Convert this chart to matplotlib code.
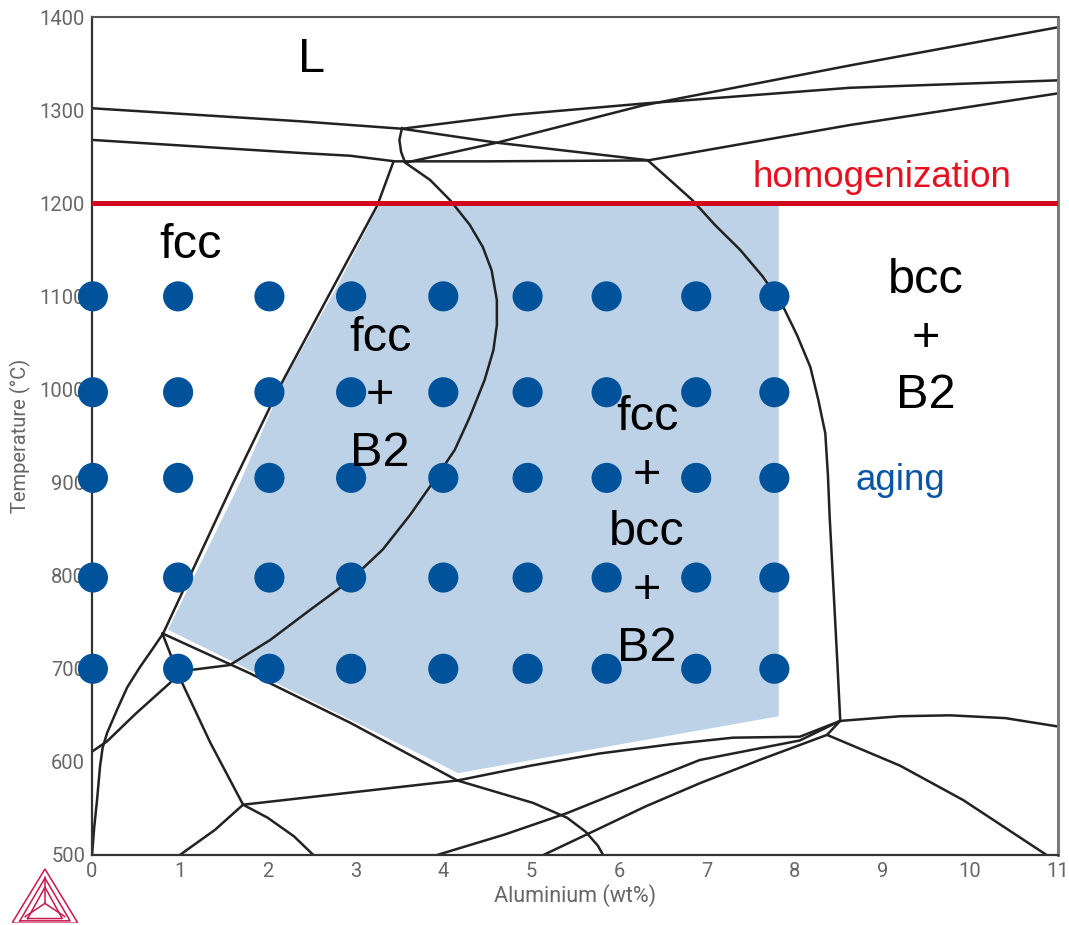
import matplotlib.pyplot as plt
from matplotlib.patches import Polygon

# aging grid (wt% Al, degC)
dot_al = [0.01, 0.98, 2.02, 2.95, 4.0, 4.96, 5.86, 6.88, 7.77]
dot_temp = [1100, 997, 905, 798, 700]

# shaded fcc+B2 / fcc+bcc+B2 window
shade_al = [0.865, 1.685, 2.175, 2.77, 3.28, 7.82, 7.82, 4.17]
shade_temp = [742, 900, 1007, 1107, 1200, 1200, 649, 588]

homog_temp = 1200

# phase boundaries
liq_a_al = [0, 2.37, 3.53, 4.61, 6.35]
liq_a_t = [1302, 1288, 1280, 1265, 1246]
liq_b_al = [0, 2.37, 2.94, 3.45, 4.5, 6.35]
liq_b_t = [1268, 1254, 1251, 1245, 1245, 1246]
peri_al = [3.53, 3.50, 3.52, 3.56]
peri_t = [1281, 1268, 1255, 1245]
top_flat_al = [3.53, 4.8, 6.27, 8.63, 11]
top_flat_t = [1280, 1295, 1307, 1324, 1332]
top_steep_al = [3.59, 4.61, 6.27, 8.63, 11]
top_steep_t = [1244, 1265, 1305, 1348, 1389]
top_low_al = [6.33, 8.63, 11]
top_low_t = [1246, 1284, 1318]
bcc_al = [6.33, 6.58, 6.84, 7.09, 7.38, 7.64, 7.87, 8.03, 8.18, 8.27, 8.35, 8.38, 8.40, 8.44, 8.49, 8.52]
bcc_t = [1246, 1225, 1203, 1177, 1150, 1121, 1089, 1058, 1024, 989, 953, 908, 863, 792, 702, 645]
fcc_al = [3.43, 3.25, 2.73, 2.16, 1.61, 0.81, 0.68, 0.547, 0.40, 0.285, 0.171, 0.12, 0.091, 0.057, 0.025, 0]
fcc_t = [1244, 1198, 1107, 1007, 900, 738, 720, 702, 680, 656, 631, 615, 595, 559, 530, 500]
b2_al = [3.56, 3.85, 4.08, 4.30, 4.45, 4.55, 4.61, 4.61, 4.57, 4.47, 4.30, 4.13, 3.88, 3.62, 3.31,
         2.94, 2.48, 2.03, 1.57, 1.15, 0.97, 0.89, 0.5, 0.17, 0]
b2_t = [1244, 1225, 1203, 1177, 1153, 1128, 1096, 1069, 1042, 1010, 970, 935, 900, 865, 828,
        795, 763, 731, 704, 699, 697, 685, 652, 622, 611]
diag_al = [0.80, 1.80, 2.94, 4.16]
diag_t = [738, 695, 642, 580]
drop_al = [0.80, 1.00, 1.35, 1.72]
drop_t = [738, 690, 620, 554]
low_l_al = [1.72, 1.4, 1.0]
low_l_t = [554, 527, 500]
low_r_al = [1.72, 2.0, 2.3, 2.52]
low_r_t = [554, 540, 520, 500]
mid_al = [1.72, 4.16]
mid_t = [554, 580]
line_a_al = [4.16, 5.0, 5.78, 6.6, 7.30, 8.06, 8.52]
line_a_t = [580, 596, 609, 619, 626, 627, 644]
arc6_al = [4.16, 5.02, 5.41, 5.62, 5.76, 5.82]
arc6_t = [580, 556, 540, 525, 510, 500]
line_b_al = [3.93, 4.7, 5.41, 6.2, 6.92, 8.06, 8.52]
line_b_t = [500, 522, 545, 575, 602, 623, 644]
line_c_al = [5.14, 5.70, 6.3, 6.92, 7.6, 8.37, 8.52]
line_c_t = [500, 525, 552, 577, 602, 629, 644]
line_d_al = [8.37, 9.2, 9.92, 10.87]
line_d_t = [629, 596, 559, 500]
line_e_al = [8.52, 9.2, 9.77, 10.4, 11]
line_e_t = [644, 649, 650, 647, 638]

boundaries = [
    (liq_a_al, liq_a_t), (liq_b_al, liq_b_t), (peri_al, peri_t),
    (top_flat_al, top_flat_t), (top_steep_al, top_steep_t), (top_low_al, top_low_t),
    (bcc_al, bcc_t), (fcc_al, fcc_t), (b2_al, b2_t), (diag_al, diag_t),
    (drop_al, drop_t), (low_l_al, low_l_t), (low_r_al, low_r_t), (mid_al, mid_t),
    (line_a_al, line_a_t), (arc6_al, arc6_t), (line_b_al, line_b_t),
    (line_c_al, line_c_t), (line_d_al, line_d_t), (line_e_al, line_e_t),
]

x_ticks = list(range(12))
y_ticks = list(range(500, 1401, 100))

fig = plt.figure(figsize=(10.69, 9.25), dpi=100)
ax = fig.add_axes([0.0861, 0.0757, 0.9036, 0.9059])
ax.set_xlim(0, 11)
ax.set_ylim(500, 1400)

ax.add_patch(Polygon(list(zip(shade_al, shade_temp)), closed=True,
                     facecolor='#bdd2e6', edgecolor='none', zorder=1))

for al, t in boundaries:
    ax.plot(al, t, color='#222222', lw=1.8, zorder=2, solid_capstyle='round',
            solid_joinstyle='round')

ax.axhline(homog_temp, color='#d0091e', lw=3.6, zorder=3)

xs = [a for t in dot_temp for a in dot_al]
ys = [t for t in dot_temp for a in dot_al]
ax.scatter(xs, ys, s=470, color='#00529b', edgecolor='none', zorder=5, clip_on=False)

big = dict(family='Liberation Sans', fontsize=35, ha='center', va='center',
           color='black', zorder=6, linespacing=1.36)
ax.text(2.5, 1354, 'L', **big)
ax.text(1.12, 1155, 'fcc', **big)
ax.text(3.28, 993, 'fcc\n+\nB2', **big)
ax.text(6.32, 846, 'fcc\n+\nbcc\n+\nB2', **big)
ax.text(9.49, 1055, 'bcc\n+\nB2', **big)
ax.text(9.0, 1228, 'homogenization', family='Liberation Sans', fontsize=26.5,
        color='#e8101e', ha='center', va='center', zorder=6)
ax.text(9.2, 902, 'aging', family='Liberation Sans', fontsize=26.5,
        color='#0a55a5', ha='center', va='center', zorder=6)

ax.set_xticks(x_ticks)
ax.set_yticks(y_ticks)
ax.tick_params(length=0, labelsize=14.5, labelcolor='#666666', pad=5)
for lab in ax.get_xticklabels() + ax.get_yticklabels():
    lab.set_family('Roboto')
ax.set_xlabel('Aluminium (wt%)', family='Roboto', fontsize=15.5, color='#666666', labelpad=2)
ax.set_ylabel('Temperature (°C)', family='Roboto', fontsize=14.5, color='#666666', labelpad=6)

for side in ['left', 'bottom']:
    ax.spines[side].set_color('#333333')
    ax.spines[side].set_linewidth(1.6)
ax.spines['top'].set_color('#555555')
ax.spines['top'].set_linewidth(1.5)
ax.spines['right'].set_color('#7a7a7a')
ax.spines['right'].set_linewidth(2.2)

# Thermo-Calc style logo
lax = fig.add_axes([0.0112, 0.002, 0.0617, 0.0616])
lax.set_xlim(0, 1)
lax.set_ylim(0, 0.866)
lax.axis('off')
logo_c = '#c8174b'
for k in [0.0, 0.07, 0.14]:
    h = 0.866 - 3 * k * 0.866
    lax.plot([k * 1.7, 1 - k * 1.7, 0.5, k * 1.7], [k * 0.5, k * 0.5, k * 0.5 + h * 0.95, k * 0.5],
             color=logo_c, lw=1.1)
lax.plot([0.5, 0.5], [0.3, 0.7], color=logo_c, lw=1.1)
lax.plot([0.5, 0.2], [0.3, 0.1], color=logo_c, lw=1.1)
lax.plot([0.5, 0.8], [0.3, 0.1], color=logo_c, lw=1.1)

fig.savefig('out.png', dpi=100, facecolor='white')
